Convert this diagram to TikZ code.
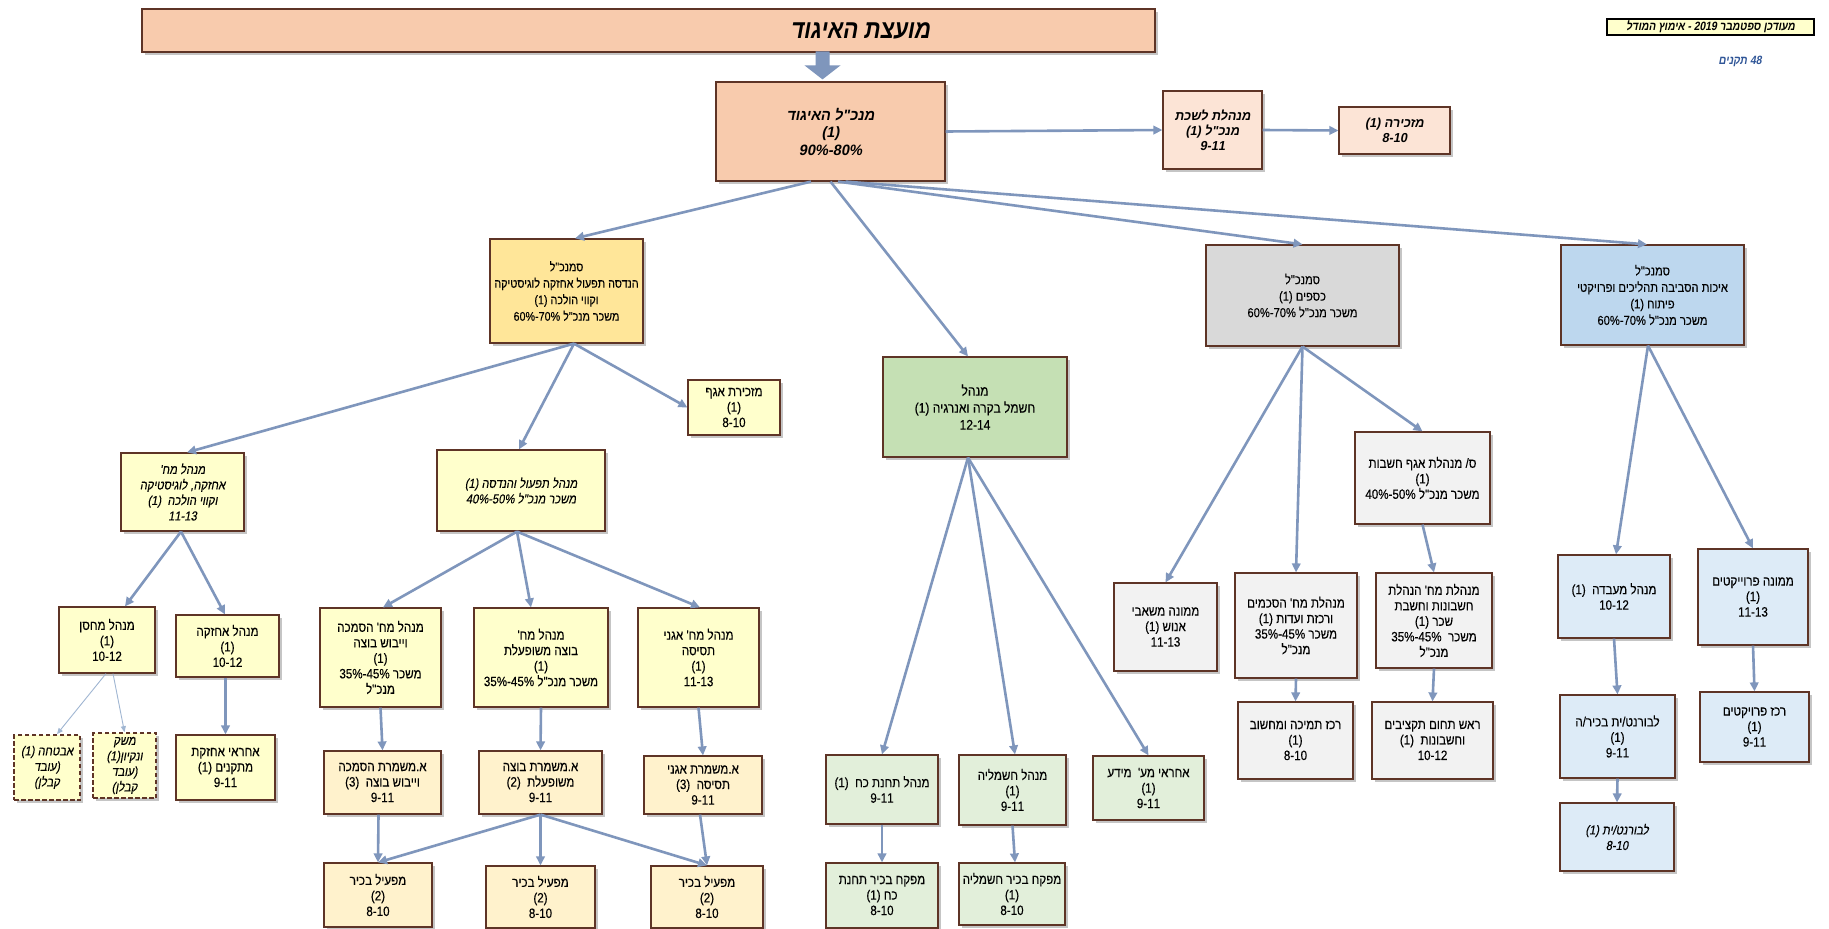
\documentclass[tikz,border=0pt]{standalone}
\usepackage{fontspec}
\usetikzlibrary{arrows.meta,shadows,calc}
\TeXXeTstate=1
\newfontfamily\hf{Liberation Sans}[Script=Hebrew,FakeStretch=0.86,FakeBold=0.25,Ligatures=TeXOff]
\newfontfamily\hfb{Liberation Sans Bold}[Script=Hebrew,FakeStretch=0.86,Ligatures=TeXOff]
\newfontfamily\hfi{Liberation Sans}[Script=Hebrew,FakeStretch=0.86,FakeSlant=0.18,FakeBold=0.25,Ligatures=TeXOff]
\newfontfamily\hfbi{Liberation Sans Bold}[Script=Hebrew,FakeStretch=0.86,FakeSlant=0.18,Ligatures=TeXOff]
\newfontfamily\hfbiw{Liberation Sans Bold}[Script=Hebrew,FakeStretch=0.97,FakeSlant=0.18,Ligatures=TeXOff]
\newcommand\myR[1]{\beginR #1\endR}
\newcommand\myL[1]{\beginL #1\endL}
\definecolor{brd}{RGB}{94,52,38}
\definecolor{arc}{RGB}{127,150,188}
\definecolor{thinarc}{RGB}{160,182,210}
\definecolor{salmon}{HTML}{F8CBAD}
\definecolor{peach}{HTML}{FCE4D6}
\definecolor{gold}{HTML}{FFE699}
\definecolor{ly}{HTML}{FFFFCC}
\definecolor{lo}{HTML}{FFF2CC}
\definecolor{gr}{HTML}{C5E0B4}
\definecolor{lgr}{HTML}{E2EFDA}
\definecolor{gy}{HTML}{D9D9D9}
\definecolor{lgy}{HTML}{F2F2F2}
\definecolor{bl}{HTML}{BDD7EE}
\definecolor{lbl}{HTML}{DDEBF7}
\definecolor{navy}{HTML}{2F5597}
\begin{document}
\begin{tikzpicture}[x=1pt,y=-1pt,
  box/.style={draw=brd, line width=1.2pt, align=center, inner sep=1pt,
    font=\hf\fontsize{13.5}{15.5}\selectfont,
    drop shadow={shadow xshift=2.5pt, shadow yshift=-2.5pt, fill=black!45, opacity=0.5}},
  dbox/.style={draw=brd, line width=1.7pt, dash pattern=on 4.5pt off 2.5pt, align=center, inner sep=1pt, fill=ly,
    font=\hfi\fontsize{13}{15.5}\selectfont,
    drop shadow={shadow xshift=2.5pt, shadow yshift=-2.5pt, fill=black!45, opacity=0.5}},
  arr/.style={draw=arc, line width=2.6pt, -{Triangle[length=9pt,width=8.5pt]}},
  tarr/.style={draw=thinarc, line width=0.9pt, -{Triangle[length=6pt,width=5pt]}},
]
\useasboundingbox (0,0) rectangle (1829,929);
\fill[white] (0,0) rectangle (1829,929);

% title
\node[box, fill=salmon, line width=1.6pt, minimum width=1013pt, minimum height=43pt] (title) at (648.5,30.5) {};
\node[font=\hfbi\fontsize{26}{30}\selectfont, inner sep=0pt] (titletext) at (860,31) {\myR{מועצת האיגוד}};

\node[draw=black, line width=1.8pt, fill=ly, minimum width=207pt, minimum height=16pt, inner sep=0pt,
  font=\hfbi\fontsize{12}{12}\selectfont] (upd) at (1710.5,27) {\myR{מעודכן ספטמבר 2019 - אימוץ המודל}};
\node[font=\hfbi\fontsize{12}{14}\selectfont, text=navy, inner sep=0pt] (tkn) at (1740,61) {\hbox{תקנים}\hspace{3pt}\hbox{48}};

% level 1
\node[box, fill=salmon, minimum width=229pt, minimum height=99pt, font=\hfbiw\fontsize{15}{17.5}\selectfont] (ceo) at (830.5,131.5)
 {\myR{מנכ"ל האיגוד}\\(1)\\\myL{80\%-90\%}};
\node[box, fill=peach, minimum width=99pt, minimum height=78pt, font=\hfbiw\fontsize{13}{15}\selectfont] (lishka) at (1212.5,130)
 {\myR{מנהלת לשכת}\\\myR{מנכ"ל (1)}\\9-11};
\node[box, fill=peach, minimum width=111pt, minimum height=47pt, font=\hfbiw\fontsize{13}{15}\selectfont] (mazkira) at (1394.5,130.5)
 {\myR{מזכירה (1)}\\8-10};

% level 2
\node[box, fill=gold, minimum width=153pt, minimum height=104pt, font=\hf\fontsize{12.5}{16.5}\selectfont] (dlog) at (566.5,291)
 {\myR{סמנכ"ל}\\\myR{הנדסה תפעול אחזקה לוגיסטיקה}\\\myR{וקווי הולכה (1)}\\\myR{משכר מנכ"ל \myL{70\%-60\%}}};
\node[box, fill=gr, minimum width=184pt, minimum height=100pt, font=\hf\fontsize{14}{17}\selectfont] (green) at (975,407)
 {\myR{מנהל}\\\myR{חשמל בקרה ואנרגיה (1)}\\12-14};
\node[box, fill=gy, minimum width=193pt, minimum height=101pt, font=\hf\fontsize{13}{16.5}\selectfont] (fin) at (1302.5,295.5)
 {\myR{סמנכ"ל}\\\myR{כספים (1)}\\\myR{משכר מנכ"ל \myL{70\%-60\%}}};
\node[box, fill=bl, minimum width=183pt, minimum height=100pt, font=\hf\fontsize{13}{16.5}\selectfont] (qual) at (1652.5,295)
 {\myR{סמנכ"ל}\\\myR{איכות הסביבה תהליכים ופרויקטי}\\\myR{פיתוח (1)}\\\myR{משכר מנכ"ל \myL{70\%-60\%}}};

% level 3
\node[box, fill=ly, minimum width=92pt, minimum height=55pt] (msec) at (734,407.5)
 {\myR{מזכירת אגף}\\(1)\\8-10};
\node[box, fill=ly, minimum width=123pt, minimum height=78pt, font=\hfi\fontsize{13}{15.5}\selectfont] (mlog) at (182.5,492)
 {\myR{מנהל מח'}\\\myR{אחזקה, לוגיסטיקה}\\\myR{וקווי הולכה \ (1)}\\11-13};
\node[box, fill=ly, minimum width=168pt, minimum height=81pt, font=\hfi\fontsize{13}{15.5}\selectfont] (ops) at (521,490.5)
 {\myR{מנהל תפעול והנדסה (1)}\\\myR{משכר מנכ"ל \myL{50\%-40\%}}};
\node[box, fill=lgy, minimum width=135pt, minimum height=92pt] (chief) at (1422.5,478)
 {\myR{ס/ מנהלת אגף חשבות}\\(1)\\\myR{משכר מנכ"ל \myL{50\%-40\%}}};

% level 4
\node[box, fill=ly, minimum width=96pt, minimum height=66pt] (store) at (107,640)
 {\myR{מנהל מחסן}\\(1)\\10-12};
\node[box, fill=ly, minimum width=103pt, minimum height=62pt] (maint) at (227.5,646)
 {\myR{מנהל אחזקה}\\(1)\\10-12};
\node[box, fill=ly, minimum width=121pt, minimum height=99pt] (hasm) at (380.5,657.5)
 {\myR{מנהל מח' הסמכה}\\\myR{וייבוש בוצה}\\(1)\\\myR{משכר \myL{45\%-35\%}}\\\myR{מנכ"ל}};
\node[box, fill=ly, minimum width=134pt, minimum height=99pt] (botz) at (541,657.5)
 {\myR{מנהל מח'}\\\myR{בוצה משופעלת}\\(1)\\\myR{משכר מנכ"ל \myL{45\%-35\%}}};
\node[box, fill=ly, minimum width=121pt, minimum height=99pt] (agan) at (698.5,657.5)
 {\myR{מנהל מח' אגני}\\\myR{תסיסה}\\(1)\\11-13};
\node[box, fill=lgy, minimum width=103pt, minimum height=88pt] (hr) at (1165.5,627)
 {\myR{ממונה משאבי}\\\myR{אנוש (1)}\\11-13};
\node[box, fill=lgy, minimum width=122pt, minimum height=105pt] (agree) at (1296,625.5)
 {\myR{מנהלת מח' הסכמים}\\\myR{ורכזת ועדות (1)}\\\myR{משכר \myL{45\%-35\%}}\\\myR{מנכ"ל}};
\node[box, fill=lgy, minimum width=116pt, minimum height=95pt] (books) at (1434,620.5)
 {\myR{מנהלת מח' הנהלת}\\\myR{חשבונות וחשבת}\\\myR{שכר (1)}\\\myR{משכר \ \myL{45\%-35\%}}\\\myR{מנכ"ל}};
\node[box, fill=lbl, minimum width=112pt, minimum height=83pt] (lab) at (1614,596.5)
 {\myR{מנהל מעבדה \ (1)}\\10-12};
\node[box, fill=lbl, minimum width=110pt, minimum height=96pt] (proj) at (1753,597)
 {\myR{ממונה פרוייקטים}\\(1)\\11-13};

% level 5
\node[dbox, minimum width=66pt, minimum height=65pt] (guard) at (47,767.5)
 {\myR{אבטחה (1)}\\(עובד\\קבלן)};
\node[dbox, minimum width=63pt, minimum height=65pt] (clean) at (124.5,765.5)
 {\myR{משק}\\\myR{ונקיון(1)}\\(עובד\\קבלן)};
\node[box, fill=ly, minimum width=99pt, minimum height=65pt] (inst) at (225.5,767.5)
 {\myR{אחראי אחזקת}\\\myR{מתקנים (1)}\\9-11};
\node[box, fill=lo, minimum width=117pt, minimum height=63pt] (sh1) at (382.5,782.5)
 {\myR{א.משמרת הסמכה}\\\myR{וייבוש בוצה \ (3)}\\9-11};
\node[box, fill=lo, minimum width=123pt, minimum height=63pt] (sh2) at (540.5,782.5)
 {\myR{א.משמרת בוצה}\\\myR{משופעלת \ (2)}\\9-11};
\node[box, fill=lo, minimum width=118pt, minimum height=58pt] (sh3) at (703,785)
 {\myR{א.משמרת אגני}\\\myR{תסיסה \ (3)}\\9-11};
\node[box, fill=lgr, minimum width=112pt, minimum height=69pt] (power) at (882,789.5)
 {\myR{מנהל תחנת כח \ (1)}\\9-11};
\node[box, fill=lgr, minimum width=107pt, minimum height=70pt] (elec) at (1012.5,790)
 {\myR{מנהל חשמליה}\\(1)\\9-11};
\node[box, fill=lgr, minimum width=111pt, minimum height=64pt] (info) at (1148.5,788)
 {\myR{אחראי מע' \ מידע}\\(1)\\9-11};
\node[box, fill=lgy, minimum width=115pt, minimum height=77pt] (support) at (1295.5,740.5)
 {\myR{רכז תמיכה ומחשוב}\\(1)\\8-10};
\node[box, fill=lgy, minimum width=121pt, minimum height=77pt] (budget) at (1432.5,740.5)
 {\myR{ראש תחום תקציבים}\\\myR{וחשבונות \ (1)}\\10-12};
\node[box, fill=lbl, minimum width=115pt, minimum height=83pt] (slab) at (1617.5,736.5)
 {\myR{לבורנט/ית בכיר/ה}\\(1)\\9-11};
\node[box, fill=lbl, minimum width=109pt, minimum height=70pt] (pcoord) at (1754.5,727)
 {\myR{רכז פרויקטים}\\(1)\\9-11};

% level 6
\node[box, fill=lo, minimum width=108pt, minimum height=64pt] (op1) at (378,895)
 {\myR{מפעיל בכיר}\\(2)\\8-10};
\node[box, fill=lo, minimum width=109pt, minimum height=62pt] (op2) at (540.5,897)
 {\myR{מפעיל בכיר}\\(2)\\8-10};
\node[box, fill=lo, minimum width=112pt, minimum height=62pt] (op3) at (707,897)
 {\myR{מפעיל בכיר}\\(2)\\8-10};
\node[box, fill=lgr, minimum width=112pt, minimum height=65pt] (spower) at (882,895.5)
 {\myR{מפקח בכיר תחנת}\\\myR{כח (1)}\\8-10};
\node[box, fill=lgr, minimum width=106pt, minimum height=62pt] (selec) at (1012,894)
 {\myR{מפקח בכיר חשמליה}\\(1)\\8-10};
\node[box, fill=lbl, minimum width=114pt, minimum height=68pt, font=\hfi\fontsize{13}{15.5}\selectfont] (lab2) at (1617,837)
 {\myR{לבורנט/ית (1)}\\8-10};

% block arrow title -> ceo
\fill[arc] ([xshift=-8pt,yshift=2pt]ceo.north) -- ++(-18,-14) -- ++(11,0) -- ++(0,-14) -- ++(14,0) -- ++(0,14) -- ++(11,0) -- cycle;

% connectors
\draw[arr] ([xshift=-19.5pt]ceo.south) -- ([xshift=8.5pt]dlog.north);
\draw[arr] (ceo.south) -- ([xshift=-7pt]green.north);
\draw[arr] ([xshift=7.5pt]ceo.south) -- (fin.north);
\draw[arr] ([xshift=15pt]ceo.south) -- ([xshift=-5.5pt]qual.north);
\draw[arr] (ceo.east) -- (lishka.west);
\draw[arr] (lishka.east) -- (mazkira.west);

\draw[arr] ([xshift=7.5pt]dlog.south) -- ([xshift=4.5pt]mlog.north);
\draw[arr] ([xshift=7.5pt]dlog.south) -- ([xshift=-2pt]ops.north);
\draw[arr] ([xshift=7.5pt]dlog.south) -- (msec.west);
\draw[arr] ([xshift=-1.5pt]mlog.south) -- ([xshift=18pt]store.north);
\draw[arr] ([xshift=-1.5pt]mlog.south) -- ([xshift=-2.5pt]maint.north);
\draw[arr] ([xshift=-4pt]ops.south) -- ([xshift=2.5pt]hasm.north);
\draw[arr] ([xshift=-4pt]ops.south) -- ([xshift=-10pt]botz.north);
\draw[arr] ([xshift=-4pt]ops.south) -- ([xshift=1.5pt]agan.north);
\draw[tarr] ([xshift=-1pt]store.south) -- ([xshift=10pt]guard.north);
\draw[tarr] ([xshift=6pt]store.south) -- (clean.north);
\draw[arr] ([xshift=-2pt]maint.south) -- (inst.north);
\draw[arr] (hasm.south) -- (sh1.north);
\draw[arr] (botz.south) -- (sh2.north);
\draw[arr] (agan.south) -- (sh3.north);
\draw[arr] ([xshift=-4pt]sh1.south) -- (op1.north);
\draw[arr] (sh2.south) -- (op1.north);
\draw[arr] (sh2.south) -- (op2.north);
\draw[arr] (sh2.south) -- (op3.north);
\draw[arr] ([xshift=-3pt]sh3.south) -- (op3.north);

\draw[arr] ([xshift=-7pt]green.south) -- (power.north);
\draw[arr] ([xshift=-7pt]green.south) -- ([xshift=2.5pt]elec.north);
\draw[arr] ([xshift=-7pt]green.south) -- (info.north);
\draw[arr] (power.south) -- (spower.north);
\draw[arr] (elec.south) -- ([xshift=3pt]selec.north);

\draw[arr] (fin.south) -- (hr.north);
\draw[arr] (fin.south) -- (agree.north);
\draw[arr] (fin.south) -- (chief.north);
\draw[arr] (chief.south) -- (books.north);
\draw[arr] (agree.south) -- (support.north);
\draw[arr] (books.south) -- (budget.north);

\draw[arr] ([xshift=-4.5pt]qual.south) -- ([xshift=2pt]lab.north);
\draw[arr] ([xshift=-4.5pt]qual.south) -- (proj.north);
\draw[arr] (lab.south) -- (slab.north);
\draw[arr] (slab.south) -- (lab2.north);
\draw[arr] (proj.south) -- (pcoord.north);
\end{tikzpicture}
\end{document}
